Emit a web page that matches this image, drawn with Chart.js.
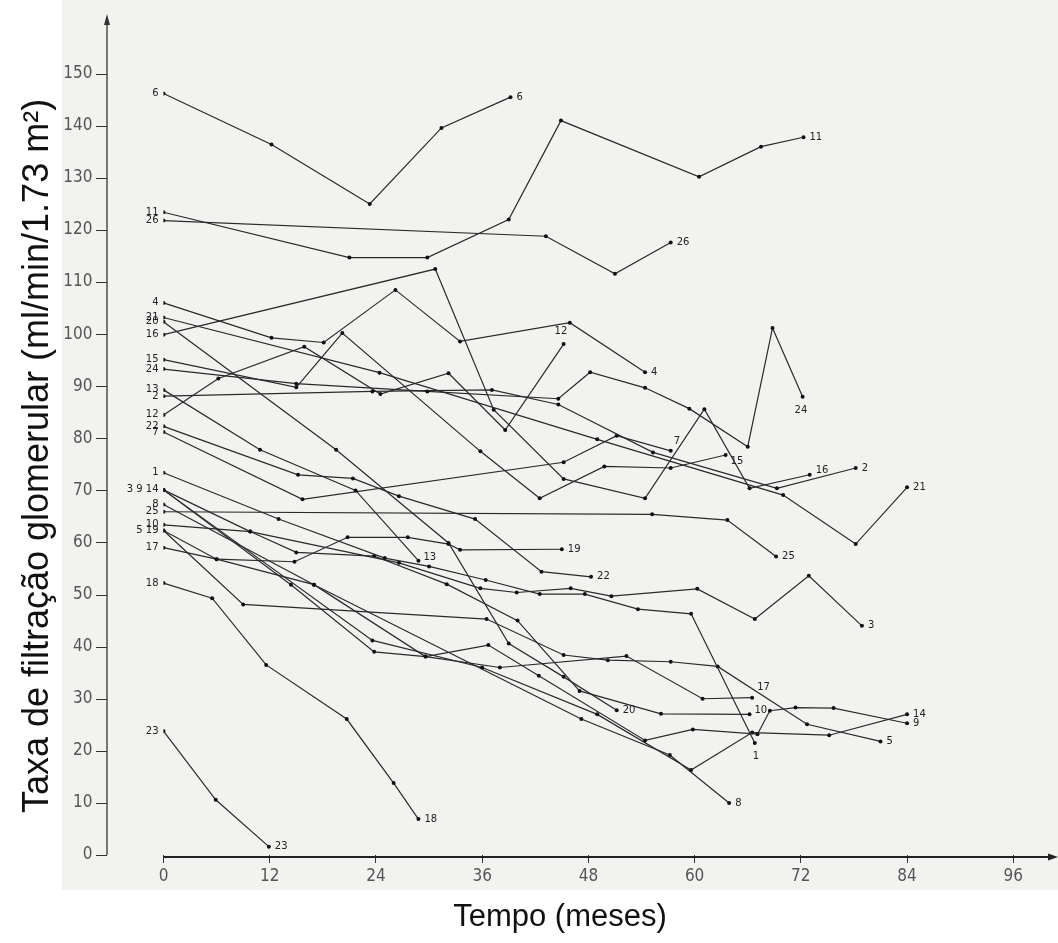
<!DOCTYPE html>
<html><head><meta charset="utf-8">
<script src="https://cdn.jsdelivr.net/npm/chart.js@4"></script>
<style>html,body{margin:0;padding:0;background:#fff}#wrap{width:1058px;height:943px}</style>
</head><body><div id="wrap"><canvas id="c" width="1058" height="943"></canvas></div>
<script>
// ---- data (month, GFR) ----
const xTicks = [0, 12, 24, 36, 48, 60, 72, 84, 96];
const yTicks = [0, 10, 20, 30, 40, 50, 60, 70, 80, 90, 100, 110, 120, 130, 140, 150];
const xTitle = 'Tempo (meses)';
const yTitle = 'Taxa de filtração glomerular (ml/min/1.73 m²)';

const s6  = [[0,146.2],[12.2,136.4],[23.3,125],[31.4,139.6],[39.2,145.5]];
const s11 = [[0,123.4],[21,114.7],[29.8,114.7],[39,122],[44.9,141],[60.5,130.2],[67.5,136],[72.3,137.8]];
const s26 = [[0,121.8],[43.2,118.8],[51,111.6],[57.3,117.6]];
const s4  = [[0,106],[12.2,99.3],[18.1,98.4],[26.2,108.5],[33.5,98.6],[45.9,102.2],[54.4,92.7]];
const s21 = [[0,103.2],[24.4,92.6],[49,79.8],[70,69.1],[78.2,59.7],[84,70.6]];
const s20 = [[0,102.4],[19.5,77.8],[32.2,59.9],[39,40.6],[45.2,34.2],[51.2,27.8]];
const s16 = [[0,99.9],[30.7,112.5],[37.3,85.5],[45.2,72.2],[54.4,68.5],[61.1,85.6],[66.2,70.4],[73,73]];
const s15 = [[0,95.1],[15,89.8],[20.2,100.2],[35.8,77.5],[42.5,68.5],[49.8,74.6],[57.3,74.3],[63.5,76.8]];
const s24 = [[0,93.3],[15,90.5],[29.8,89],[44.6,87.6],[48.2,92.7],[54.4,89.7],[59.4,85.7],[66,78.4],[68.8,101.2],[72.2,88]];
const s13 = [[0,89.3],[10.9,77.8],[21.7,70],[28.8,56.5]];
const s2  = [[0,88.1],[23.6,89],[37.1,89.3],[44.6,86.5],[55.3,77.3],[69.3,70.4],[78.2,74.3]];
const s12 = [[0,84.5],[6.2,91.5],[15.9,97.6],[24.5,88.5],[32.2,92.5],[38.6,81.6],[45.2,98.1]];
const s22 = [[0,82.3],[15.2,73],[21.4,72.3],[26.6,68.9],[35.2,64.5],[42.7,54.4],[48.3,53.4]];
const s7  = [[0,81.2],[15.7,68.3],[45.2,75.4],[51.2,80.5],[57.3,77.6]];
const s1  = [[0,73.4],[13,64.5],[25,57],[30,55.4],[36.4,52.8],[42.5,50.1],[47.6,50.1],[53.6,47.2],[59.6,46.3],[66.8,21.5]];
const s3  = [[0,70.1],[9.8,62.1],[26.6,56.1],[35.8,51.2],[39.9,50.4],[46,51.2],[50.6,49.7],[60.3,51.1],[66.8,45.3],[72.9,53.6],[78.9,44]];
const s9  = [[0,70.1],[14.4,51.9],[23.8,39],[29.6,38.1],[36.7,40.3],[42.4,34.4],[54.4,22],[59.8,24.1],[67.1,23.2],[68.5,27.7],[71.4,28.3],[75.7,28.2],[84,25.3]];
const s14 = [[0,70.1],[23.6,41.2],[36,36],[49,27],[59.6,16.3],[66.5,23.5],[75.2,23],[84,27]];
const s8  = [[0,67.3],[17,51.9],[47.2,26.1],[57.2,19.2],[63.9,10]];
const s25 = [[0,65.9],[55.2,65.4],[63.7,64.3],[69.2,57.3]];
const s10 = [[0,63.4],[9.8,62.1],[15,58.1],[23.8,57.4],[32,52],[40,45],[47,31.5],[56.2,27.1],[66.2,27]];
const s5  = [[0,62.3],[9,48.1],[36.5,45.3],[45.2,38.4],[50.2,37.4],[57.3,37.1],[62.6,36.2],[72.7,25.1],[81,21.8]];
const s19 = [[0,62.3],[6,56.8],[14.8,56.3],[20.8,61],[27.6,61],[32.2,59.7],[33.5,58.6],[45,58.7]];
const s17 = [[0,59],[6,56.8],[17,51.9],[29.6,38.1],[38,36],[52.3,38.2],[60.9,30],[66.5,30.2]];
const s18 = [[0,52.2],[5.5,49.3],[11.6,36.5],[20.7,26.1],[26,13.8],[28.8,6.9]];
const s23 = [[0,23.8],[5.9,10.6],[11.9,1.6]];

// [end label, start label, values]
const seriesList = [
  ['6','6',s6],['11','11',s11],['26','26',s26],['4','4',s4],['21','21',s21],['20','20',s20],
  ['16','16',s16],['15','15',s15],['24','24',s24],['13','13',s13],['2','2',s2],['12','12',s12],
  ['22','22',s22],['7','7',s7],['1','1',s1],['3','3 9 14',s3],['9','',s9],['14','',s14],
  ['8','8',s8],['25','25',s25],['10','10',s10],['5','5 19',s5],['19','',s19],['17','17',s17],
  ['18','18',s18],['23','23',s23]
];

// label placement styling (pixel offsets from end dot)
const endOffsets = {'24':[-8,14],'1':[-2,13],'12':[-9,-13],'7':[3,-9],'17':[5,-10],'15':[5,6],'16':[6,-4],'13':[5,-3],'10':[5,-4]};

const FONT = '"Liberation Sans Narrow","DejaVu Sans Condensed","Liberation Sans",sans-serif';
const Y_AXIS_X = 107;

const bgPlugin = {
  id: 'bg',
  beforeDraw(chart) {
    const ctx = chart.ctx;
    ctx.save();
    ctx.fillStyle = '#ffffff';
    ctx.fillRect(0, 0, chart.width, chart.height);
    ctx.fillStyle = '#f2f2f0';
    ctx.fillRect(62, 0, chart.width - 62, 890);
    ctx.restore();
  }
};

const axesPlugin = {
  id: 'axesArrows',
  beforeDatasetsDraw(chart) {
    const {ctx, chartArea} = chart;
    const ys = chart.scales.y;
    const yb = ys.getPixelForValue(0);
    ctx.save();
    ctx.strokeStyle = '#333';
    ctx.fillStyle = '#333';
    ctx.lineWidth = 1.3;
    ctx.beginPath(); ctx.moveTo(Y_AXIS_X, yb); ctx.lineTo(Y_AXIS_X, 24); ctx.stroke();
    ctx.beginPath(); ctx.moveTo(Y_AXIS_X, 14); ctx.lineTo(Y_AXIS_X - 3, 25); ctx.lineTo(Y_AXIS_X + 3, 25); ctx.closePath(); ctx.fill();
    ctx.lineWidth = 1;
    yTicks.forEach(v => {
      const p = Math.round(ys.getPixelForValue(v)) + 0.5;
      ctx.beginPath(); ctx.moveTo(Y_AXIS_X - 11, p); ctx.lineTo(Y_AXIS_X, p); ctx.stroke();
    });
    const y0 = chartArea.bottom + 2;
    ctx.strokeStyle = '#222'; ctx.fillStyle = '#222';
    ctx.lineWidth = 2;
    ctx.beginPath(); ctx.moveTo(chartArea.left, y0); ctx.lineTo(1050, y0); ctx.stroke();
    ctx.beginPath(); ctx.moveTo(1058, y0); ctx.lineTo(1048, y0 - 3.5); ctx.lineTo(1048, y0 + 3.5); ctx.closePath(); ctx.fill();
    ctx.restore();
  }
};

const labelPlugin = {
  id: 'seriesLabels',
  afterDatasetsDraw(chart) {
    const ctx = chart.ctx;
    ctx.save();
    ctx.fillStyle = '#222';
    ctx.font = '10px "DejaVu Sans",sans-serif';
    chart.data.datasets.forEach((ds, i) => {
      const pts = chart.getDatasetMeta(i).data;
      const first = pts[0], last = pts[pts.length - 1];
      if (ds.startLabel) {
        ctx.textAlign = 'right'; ctx.textBaseline = 'middle';
        ctx.fillText(ds.startLabel, first.x - 5, first.y);
      }
      const off = endOffsets[ds.endLabel] || [6, 0];
      ctx.textAlign = 'left'; ctx.textBaseline = 'middle';
      ctx.fillText(ds.endLabel, last.x + off[0], last.y + off[1]);
    });
    ctx.restore();
  }
};

const titlePlugin = {
  id: 'axisTitles',
  afterDraw(chart) {
    const ctx = chart.ctx;
    ctx.save();
    ctx.fillStyle = '#111';
    ctx.textAlign = 'center'; ctx.textBaseline = 'middle';
    ctx.font = '31px "Liberation Sans",Arial,sans-serif';
    ctx.fillText(xTitle, 560, 917);
    ctx.font = '36px "Liberation Sans",Arial,sans-serif';
    ctx.translate(38, 456);
    ctx.rotate(-Math.PI / 2);
    ctx.fillText(yTitle, 0, 0);
    ctx.restore();
  }
};

const datasets = seriesList.map(([endLabel, startLabel, vals]) => ({
  endLabel, startLabel,
  data: vals.map(([x, y]) => ({x, y})),
  borderColor: '#2a2a2a',
  borderWidth: 1.2,
  pointRadius: 2,
  pointBackgroundColor: '#111',
  pointBorderWidth: 0,
  tension: 0,
  fill: false
}));

new Chart(document.getElementById('c'), {
  type: 'line',
  data: { datasets },
  plugins: [bgPlugin, axesPlugin, labelPlugin, titlePlugin],
  options: {
    responsive: false,
    animation: false,
    devicePixelRatio: 1,
    layout: { padding: { top: 18, right: 0, left: 0, bottom: 0 } },
    plugins: { legend: { display: false }, tooltip: { enabled: false } },
    scales: {
      x: {
        type: 'linear', min: 0, max: 100.6,
        afterFit(s) { s.height = 88; s.paddingLeft = 0; s.paddingRight = 0; },
        afterBuildTicks(s) { s.ticks = xTicks.map(v => ({value: v})); },
        grid: { drawOnChartArea: false, drawTicks: true, tickLength: 8, color: '#333', lineWidth: 1 },
        border: { display: false },
        ticks: { color: '#555', font: { family: FONT, size: 17 }, padding: 3, maxRotation: 0, autoSkip: false }
      },
      y: {
        type: 'linear', min: 0, max: 160.7,
        afterFit(s) { s.width = 163.5; s.paddingTop = 0; s.paddingBottom = 0; },
        afterBuildTicks(s) { s.ticks = yTicks.map(v => ({value: v})); },
        grid: { display: false, drawTicks: false },
        border: { display: false },
        ticks: { color: '#555', font: { family: FONT, size: 17 }, padding: 71, autoSkip: false }
      }
    }
  }
});
</script>
</body></html>
